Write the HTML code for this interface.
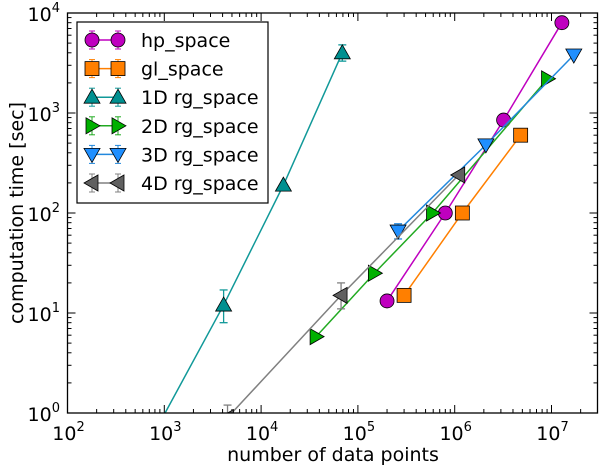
<!DOCTYPE html>
<html><head><meta charset="utf-8"><style>
body{margin:0;background:#fff;}
svg{font-family:"DejaVu Sans","Liberation Sans",sans-serif;}
</style></head><body>
<svg id="chart" width="600" height="465" viewBox="0 0 600 465" xmlns="http://www.w3.org/2000/svg">
<rect width="600" height="465" fill="#fff"/>
<g id="grid-layer"></g>
<g id="series-layer"></g>
<rect x="67.5" y="13" width="530" height="400" fill="none" stroke="#000" stroke-width="1.3"/>
<text x="333" y="461" font-size="19" text-anchor="middle">number of data points</text>
<text transform="translate(23,213) rotate(-90)" font-size="19" text-anchor="middle">computation time [sec]</text>
<g id="legend-layer"></g>
</svg>
<script>
const xTickExps=[2,3,4,5,6,7];
const yTickExps=[0,1,2,3,4];
const seriesNames=["hp_space","gl_space","1D rg_space","2D rg_space","3D rg_space","4D rg_space"];
const hpX=[2e5,8e5,3.2e6,1.28e7];
const hpY=[13.2,100,850,8000];
const glX=[3e5,1.2e6,4.8e6];
const glY=[15,100,600];
const d1X=[8e2,4.1e3,1.7e4,6.9e4];
const d1Y=[0.65,12,190,4000];
const d1Lo=[0.65,8,190,3300];
const d1Hi=[0.65,17,190,4800];
const d2X=[3.7e4,1.48e5,5.9e5,9.1e6];
const d2Y=[5.8,25,100,2200];
const d3X=[2.6e5,2.1e6,1.7e7];
const d3Y=[66,480,3800];
const d3Lo=[55,480,3800];
const d3Hi=[78,480,3800];
const d4X=[4.5e3,6.7e4,1.1e6];
const d4Y=[0.9,15,240];
const d4Lo=[0.8,11,240];
const d4Hi=[1.2,20,240];
const colors=["#bf00bf","#ff7f00","#009090","#00b000","#1f8fff","#606060"];
const lineColors=["#bf00bf","#ff7f00","#119999","#22aa22","#2288dd","#808080"];

const NS="http://www.w3.org/2000/svg";
const X0=67.5,X1=597.5,Y0=413,Y1=13;
const xmin=2,xmax=2+(X1-X0)/96.8;
function xs(v){return X0+(Math.log10(v)-xmin)/(xmax-xmin)*(X1-X0);}
function ys(v){return Y0-(Math.log10(v)-0)/4*(Y0-Y1);}
function mk(tag,attrs,parent){const e=document.createElementNS(NS,tag);for(const k in attrs)e.setAttribute(k,attrs[k]);parent.appendChild(e);return e;}
const grid=document.getElementById('grid-layer');
const ser=document.getElementById('series-layer');
const leg=document.getElementById('legend-layer');

for(let d=2;d<=7;d++){for(let m=1;m<10;m++){const v=m*Math.pow(10,d);const x=xs(v);if(x>X1+0.1)continue;const L=m===1?8:4;
 mk('line',{x1:x,x2:x,y1:Y0,y2:Y0-L,stroke:'#000','stroke-width':1},grid);
 mk('line',{x1:x,x2:x,y1:Y1,y2:Y1+L,stroke:'#000','stroke-width':1},grid);}}
for(let d=0;d<4;d++){for(let m=1;m<10;m++){const v=m*Math.pow(10,d);const y=ys(v);const L=m===1?8:4;
 mk('line',{x1:X0,x2:X0+L,y1:y,y2:y,stroke:'#000','stroke-width':1},grid);
 mk('line',{x1:X1,x2:X1-L,y1:y,y2:y,stroke:'#000','stroke-width':1},grid);}}
xTickExps.forEach(e=>{const t=mk('text',{x:xs(Math.pow(10,e))+1,y:440,'font-size':19,'text-anchor':'middle'},grid);
 
 
 t.textContent='10';const s=mk('tspan',{dy:-9,'font-size':13},t);s.textContent=e;});
yTickExps.forEach(e=>{const t=mk('text',{x:60,y:ys(Math.pow(10,e))+8,'font-size':19,'text-anchor':'end'},grid);
 
 
 t.textContent='10';const s=mk('tspan',{dy:-9,'font-size':13},t);s.textContent=e;});

function marker(type,x,y,color,parent){
 const st={fill:color,stroke:'#000','stroke-width':0.8};let e;const r=8;
 if(type==='o'){e=mk('circle',Object.assign({cx:x,cy:y,r:7},st),parent);}
 else if(type==='s'){e=mk('rect',Object.assign({x:x-7,y:y-7,width:14,height:14},st),parent);}
 else{let p;
  if(type==='^')p=[[x,y-r],[x-r,y+r*0.75],[x+r,y+r*0.75]];
  if(type==='v')p=[[x,y+r],[x-r,y-r*0.75],[x+r,y-r*0.75]];
  if(type==='>')p=[[x+r,y],[x-r*0.75,y-r],[x-r*0.75,y+r]];
  if(type==='<')p=[[x-r,y],[x+r*0.75,y-r],[x+r*0.75,y+r]];
  e=mk('polygon',Object.assign({points:p.map(q=>q.join(',')).join(' ')},st),parent);}
 return e;}
function errbar(x,lo,hi,color,parent){const a=ys(lo),b=ys(hi);if(Math.abs(a-b)<1)return;
 mk('line',{x1:x,x2:x,y1:a,y2:b,stroke:color,'stroke-width':1.3},parent);
 mk('line',{x1:x-4,x2:x+4,y1:a,y2:a,stroke:color,'stroke-width':1.3},parent);
 mk('line',{x1:x-4,x2:x+4,y1:b,y2:b,stroke:color,'stroke-width':1.3},parent);}

const series=[
 {name:'hp',X:hpX,Y:hpY,m:'o'},
 {name:'gl',X:glX,Y:glY,m:'s'},
 {name:'1d',X:d1X,Y:d1Y,m:'^',lo:d1Lo,hi:d1Hi},
 {name:'2d',X:d2X,Y:d2Y,m:'>'},
 {name:'3d',X:d3X,Y:d3Y,m:'v',lo:d3Lo,hi:d3Hi},
 {name:'4d',X:d4X,Y:d4Y,m:'<',lo:d4Lo,hi:d4Hi}];
const clip=mk('clipPath',{id:'pc'},ser);mk('rect',{x:X0,y:Y1,width:X1-X0,height:Y0-Y1},clip);
series.forEach((s,i)=>{
 const g=mk('g',{'clip-path':'url(#pc)'},ser);
 
 
 const pts=s.X.map((v,j)=>xs(v)+','+ys(s.Y[j])).join(' ');
 const pl=mk('polyline',{points:pts,fill:'none',stroke:lineColors[i],'stroke-width':1.5},g);
 
 
 s.X.forEach((v,j)=>{
  if(s.lo)errbar(xs(v),s.lo[j],s.hi[j],lineColors[i],g);
  const m=marker(s.m,xs(v),ys(s.Y[j]),colors[i],g);
  
  
 });
});

const lb=mk('rect',{x:77,y:22,width:191,height:181,fill:'#fff',stroke:'#000','stroke-width':1.2},leg);


series.forEach((s,i)=>{
 const y=40+i*28.6;
 const g=mk('g',{},leg);
 
 
 mk('line',{x1:92,x2:118,y1:y,y2:y,stroke:lineColors[i],'stroke-width':1.5},g);
 [92,118].forEach(x=>{mk('line',{x1:x,x2:x,y1:y-9,y2:y+9,stroke:lineColors[i],'stroke-width':1},g);
  mk('line',{x1:x-3,x2:x+3,y1:y-9,y2:y-9,stroke:lineColors[i],'stroke-width':1},g);
  mk('line',{x1:x-3,x2:x+3,y1:y+9,y2:y+9,stroke:lineColors[i],'stroke-width':1},g);
  marker(s.m,x,y,colors[i],g);});
 const t=mk('text',{x:141,y:y+7,'font-size':19},g);t.textContent=seriesNames[i];
});
</script>
</body></html>
